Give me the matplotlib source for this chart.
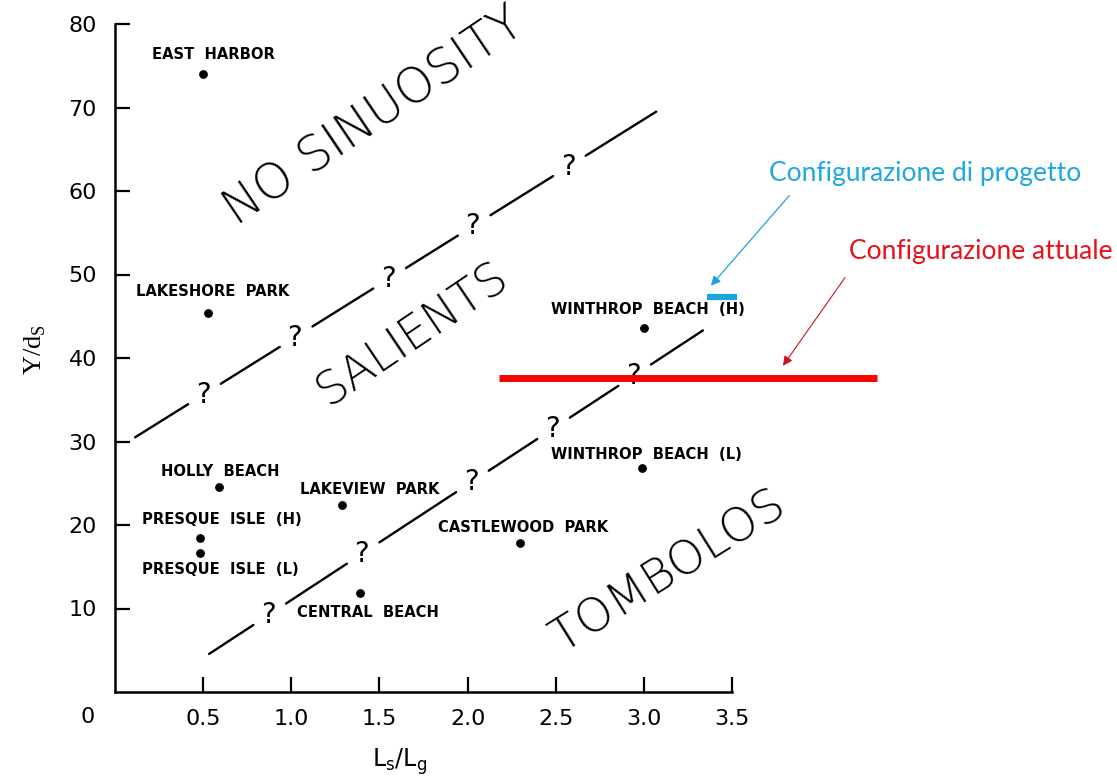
import matplotlib
matplotlib.use('Agg')
import numpy as np
import matplotlib.pyplot as plt

# Site data (L_s/L_g, Y/d_s)
sites = ['EAST  HARBOR', 'LAKESHORE  PARK', 'HOLLY  BEACH', 'PRESQUE  ISLE  (H)',
         'PRESQUE  ISLE  (L)', 'LAKEVIEW  PARK', 'CENTRAL  BEACH',
         'CASTLEWOOD  PARK', 'WINTHROP  BEACH  (L)', 'WINTHROP  BEACH  (H)']
site_x = [0.50, 0.53, 0.59, 0.48, 0.48, 1.29, 1.39, 2.30, 2.99, 3.00]
site_y = [74.0, 45.4, 24.5, 18.5, 16.7, 22.4, 11.8, 17.8, 26.8, 43.6]

# Boundary lines (end points) and position of the "?" marks along them
upper_x = [0.114, 3.07]
upper_y = [30.5, 69.5]
upper_q = [0.50, 1.02, 1.55, 2.03, 2.57]
lower_x = [0.534, 3.335]
lower_y = [4.56, 43.3]
lower_q = [0.87, 1.40, 2.02, 2.48, 2.94]

# Current and design configurations
actual_x = [2.18, 4.32]
actual_y = 37.6
design_x = [3.36, 3.53]
design_y = 47.3

x_ticks = [0.5, 1.0, 1.5, 2.0, 2.5, 3.0, 3.5]
y_ticks = [10, 20, 30, 40, 50, 60, 70, 80]

# label offsets in pixels (layout only)
label_off = [(10, 20), (4, 21), (1, 16), (22, 18), (21, -17), (27, 15),
             (8, -19), (3, 16), (4, 14), (4, 18)]

W, H = 1117, 778
fig = plt.figure(figsize=(W / 100, H / 100), dpi=100)
ax = fig.add_axes([115 / W, 86 / H, (732 - 115) / W, (692 - 24) / H])
ax.set_xlim(0, 3.5)
ax.set_ylim(0, 80)

for s in ['top', 'right']:
    ax.spines[s].set_visible(False)
for s in ['left', 'bottom']:
    ax.spines[s].set_linewidth(1.8)

ax.set_xticks(x_ticks)
ax.set_xticklabels([f'{v:.1f}' for v in x_ticks])
ax.set_yticks(y_ticks)
ax.tick_params(direction='in', length=11, width=1.6, labelsize=16, pad=12)
ax.tick_params(axis='y', pad=13)
ax.text(-0.155, -3.0, '0', fontsize=16, ha='center', va='center', clip_on=False)

# points and labels
ax.scatter(site_x, site_y, s=28, color='black', zorder=3)
for name, x, y, off in zip(sites, site_x, site_y, label_off):
    ax.annotate(name, (x, y), xytext=off, textcoords='offset pixels',
                ha='center', va='center', fontsize=10.6, fontweight='bold',
                family='DejaVu Sans', annotation_clip=False)


def draw_boundary(xs, ys, qs, gap_before=0.085, gap_after=0.1):
    slope = (ys[1] - ys[0]) / (xs[1] - xs[0])
    line = lambda x: ys[0] + slope * (x - xs[0])
    starts = [xs[0]] + [q + gap_after for q in qs]
    ends = [q - gap_before for q in qs] + [xs[1]]
    for a, b in zip(starts, ends):
        ax.plot([a, b], [line(a), line(b)], color='black', lw=1.7,
                solid_capstyle='round', clip_on=False)
    for q in qs:
        ax.text(q, line(q), '?', fontsize=20, ha='center', va='center',
                family='DejaVu Sans')


draw_boundary(upper_x, upper_y, upper_q)
draw_boundary(lower_x, lower_y, lower_q)

region_kw = dict(fontweight='light', ha='center', va='center',
                 rotation_mode='anchor', family='DejaVu Sans')
ax.text(1.47, 68.9, 'NO SINUOSITY', rotation=34, fontsize=35, **region_kw)
ax.text(1.69, 42.9, 'SALIENTS', rotation=34, fontsize=33, **region_kw)
ax.text(3.14, 14.4, 'TOMBOLOS', rotation=32, fontsize=34, **region_kw)

# configurations
red = '#FF0000'
blue = '#1AA3E0'
ax.plot(actual_x, [actual_y, actual_y], color=red, lw=5, clip_on=False,
        solid_capstyle='butt', zorder=4)
ax.plot(design_x, [design_y, design_y], color=blue, lw=4.5, clip_on=False,
        solid_capstyle='butt', zorder=4)

ax.annotate('', xy=(3.37, 48.4), xytext=(3.835, 59.7), annotation_clip=False,
            arrowprops=dict(arrowstyle='-|>', color=blue, lw=0.9,
                            mutation_scale=14))
ax.annotate('', xy=(3.78, 38.8), xytext=(4.15, 49.9), annotation_clip=False,
            arrowprops=dict(arrowstyle='-|>', color='#D0101A', lw=0.8,
                            mutation_scale=14))
ax.text(3.71, 62.1, 'Configurazione di progetto', color='#1EA8E0',
        fontsize=19, family='Lato', ha='left', va='center')
ax.text(4.165, 52.7, 'Configurazione attuale', color='#E8101A',
        fontsize=19, family='Lato', ha='left', va='center')

# axis titles
fig.text(35 / W, 1 - 350 / H, r'Y/d$_\mathregular{S}$', rotation=90,
         fontsize=19, family='Liberation Serif', ha='center', va='center')
fig.text(400 / W, 1 - 762 / H, r'L$_\mathregular{s}$/L$_\mathregular{g}$',
         fontsize=17, ha='center', va='center')

fig.savefig('out.png', dpi=100)
